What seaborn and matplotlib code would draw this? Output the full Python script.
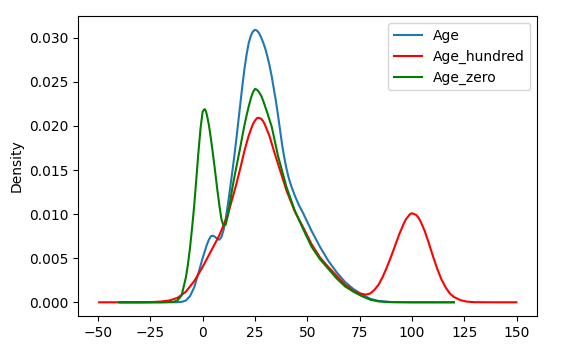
"""
Curvas de densidade (KDE) da idade: original, NaN -> 100 e NaN -> 0.
Os valores das curvas foram lidos da figura de referência.
"""
import pandas as pd
import matplotlib
matplotlib.use("Agg")
import matplotlib.pyplot as plt
import seaborn as sns

# Age (KDE da coluna original)
age_x = [-39.4, -20, -12, -10, -8, -6, -4, -2, 0, 2, 3, 4, 5, 6, 7, 8, 9, 10, 11, 12,
         13, 14, 15, 16, 17, 18, 19, 20, 21, 22, 23, 24, 25, 26, 27, 28, 29, 30, 31,
         32, 33, 34, 35, 36, 37, 38, 39, 40, 41, 42, 44, 46, 48, 50, 52, 56, 60, 64,
         68, 72, 76, 80, 84, 90, 100, 119.8]
age_y = [0, 0, 0.00001, 0.00005, 0.0002, 0.0007, 0.0017, 0.0033, 0.0050, 0.0065,
         0.0071, 0.0075, 0.00755, 0.0074, 0.0072, 0.0071, 0.0074, 0.0082, 0.0094,
         0.0110, 0.0127, 0.0145, 0.0163, 0.0183, 0.0204, 0.0225, 0.0246, 0.0265,
         0.0281, 0.0294, 0.0302, 0.0307, 0.0309, 0.0308, 0.0305, 0.0300, 0.0294,
         0.0287, 0.0278, 0.0268, 0.0256, 0.0242, 0.0228, 0.0212, 0.0195, 0.0178,
         0.0164, 0.0152, 0.0142, 0.0134, 0.0121, 0.0110, 0.0101, 0.0091, 0.0081,
         0.0063, 0.0047, 0.0034, 0.0023, 0.0015, 0.0009, 0.0004, 0.00015, 0.00003,
         0, 0]

# Age_hundred (NaN preenchido com 100)
hundred_x = [-49.4, -30, -25, -20, -16, -12, -8, -4, 0, 4, 8, 12, 16, 18, 20, 22, 24,
             25, 26, 27, 28, 29, 30, 32, 34, 36, 40, 44, 48, 52, 56, 60, 64, 68, 72,
             75, 78, 80, 82, 84, 86, 88, 90, 92, 94, 96, 97, 98, 99, 100, 101, 102,
             103, 104, 106, 108, 110, 112, 114, 116, 118, 120, 123, 126, 130, 140,
             149.8]
hundred_y = [0, 0, 0.00002, 0.00008, 0.0002, 0.0005, 0.0012, 0.0024, 0.0040, 0.0058,
             0.0076, 0.0099, 0.0133, 0.0152, 0.0172, 0.0189, 0.0202, 0.0206, 0.0209,
             0.0209, 0.0208, 0.0205, 0.0200, 0.0188, 0.0172, 0.0157, 0.0127, 0.0103,
             0.0085, 0.0066, 0.0051, 0.0040, 0.0030, 0.0020, 0.0013, 0.0010, 0.00087,
             0.0010, 0.0014, 0.0020, 0.0029, 0.0040, 0.0052, 0.0065, 0.0078, 0.0089,
             0.0094, 0.0097, 0.0100, 0.0101, 0.0100, 0.0099, 0.0096, 0.0092, 0.0081,
             0.0067, 0.0052, 0.0038, 0.0026, 0.0017, 0.0010, 0.0006, 0.00025, 0.00008,
             0.00001, 0, 0]

# Age_zero (NaN preenchido com 0)
zero_x = [-40, -20, -14, -12, -10, -8, -7, -6, -5, -4, -3, -2, -1, 0, 0.5, 1, 1.5, 2,
          3, 4, 5, 6, 7, 8, 9, 10, 11, 12, 13, 14, 15, 16, 17, 18, 19, 20, 21, 22, 23,
          24, 25, 26, 27, 28, 29, 30, 31, 33, 36, 40, 44, 48, 52, 56, 60, 64, 68, 72,
          76, 80, 84, 90, 100, 120]
zero_y = [0, 0, 0.00005, 0.0002, 0.0008, 0.0028, 0.0043, 0.0062, 0.0085, 0.0110,
          0.0140, 0.0170, 0.0197, 0.0216, 0.0218, 0.0219, 0.0217, 0.0213, 0.0201,
          0.0185, 0.0167, 0.0148, 0.0128, 0.0110, 0.0094, 0.0087, 0.0088, 0.0098,
          0.0112, 0.0127, 0.0140, 0.0152, 0.0164, 0.0176, 0.0189, 0.0201, 0.0212,
          0.0222, 0.0231, 0.0238, 0.0242, 0.0241, 0.0238, 0.0234, 0.0228, 0.0221,
          0.0214, 0.0199, 0.0166, 0.0131, 0.0104, 0.0083, 0.0063, 0.0049, 0.0038,
          0.0027, 0.0018, 0.0012, 0.0007, 0.0003, 0.0001, 0.00001, 0, 0]

series = [("Age", age_x, age_y, "#1f77b4"),
          ("Age_hundred", hundred_x, hundred_y, "red"),
          ("Age_zero", zero_x, zero_y, "green")]

x_ticks = [-50, -25, 0, 25, 50, 75, 100, 125, 150]
y_ticks = [0.000, 0.005, 0.010, 0.015, 0.020, 0.025, 0.030]

plt.rcParams['font.family'] = ['DejaVu Sans']
plt.rcParams['font.size'] = 10

fig = plt.figure(figsize=(5.84, 3.59), dpi=100)
ax = fig.add_axes([0.134, 0.120, 0.786, 0.835])

for nome, xs, ys, cor in series:
    df = pd.DataFrame({"x": xs, "y": ys})
    sns.lineplot(data=df, x="x", y="y", color=cor, linewidth=1.5,
                 label=nome, estimator=None, ax=ax)

ax.set_xticks(x_ticks)
ax.set_yticks(y_ticks)
ax.set_yticklabels([f"{v:.3f}" for v in y_ticks])
ax.set_xlabel("")
ax.set_ylabel("Density")
ax.legend(loc="upper right")

fig.savefig("out.png", dpi=100)
